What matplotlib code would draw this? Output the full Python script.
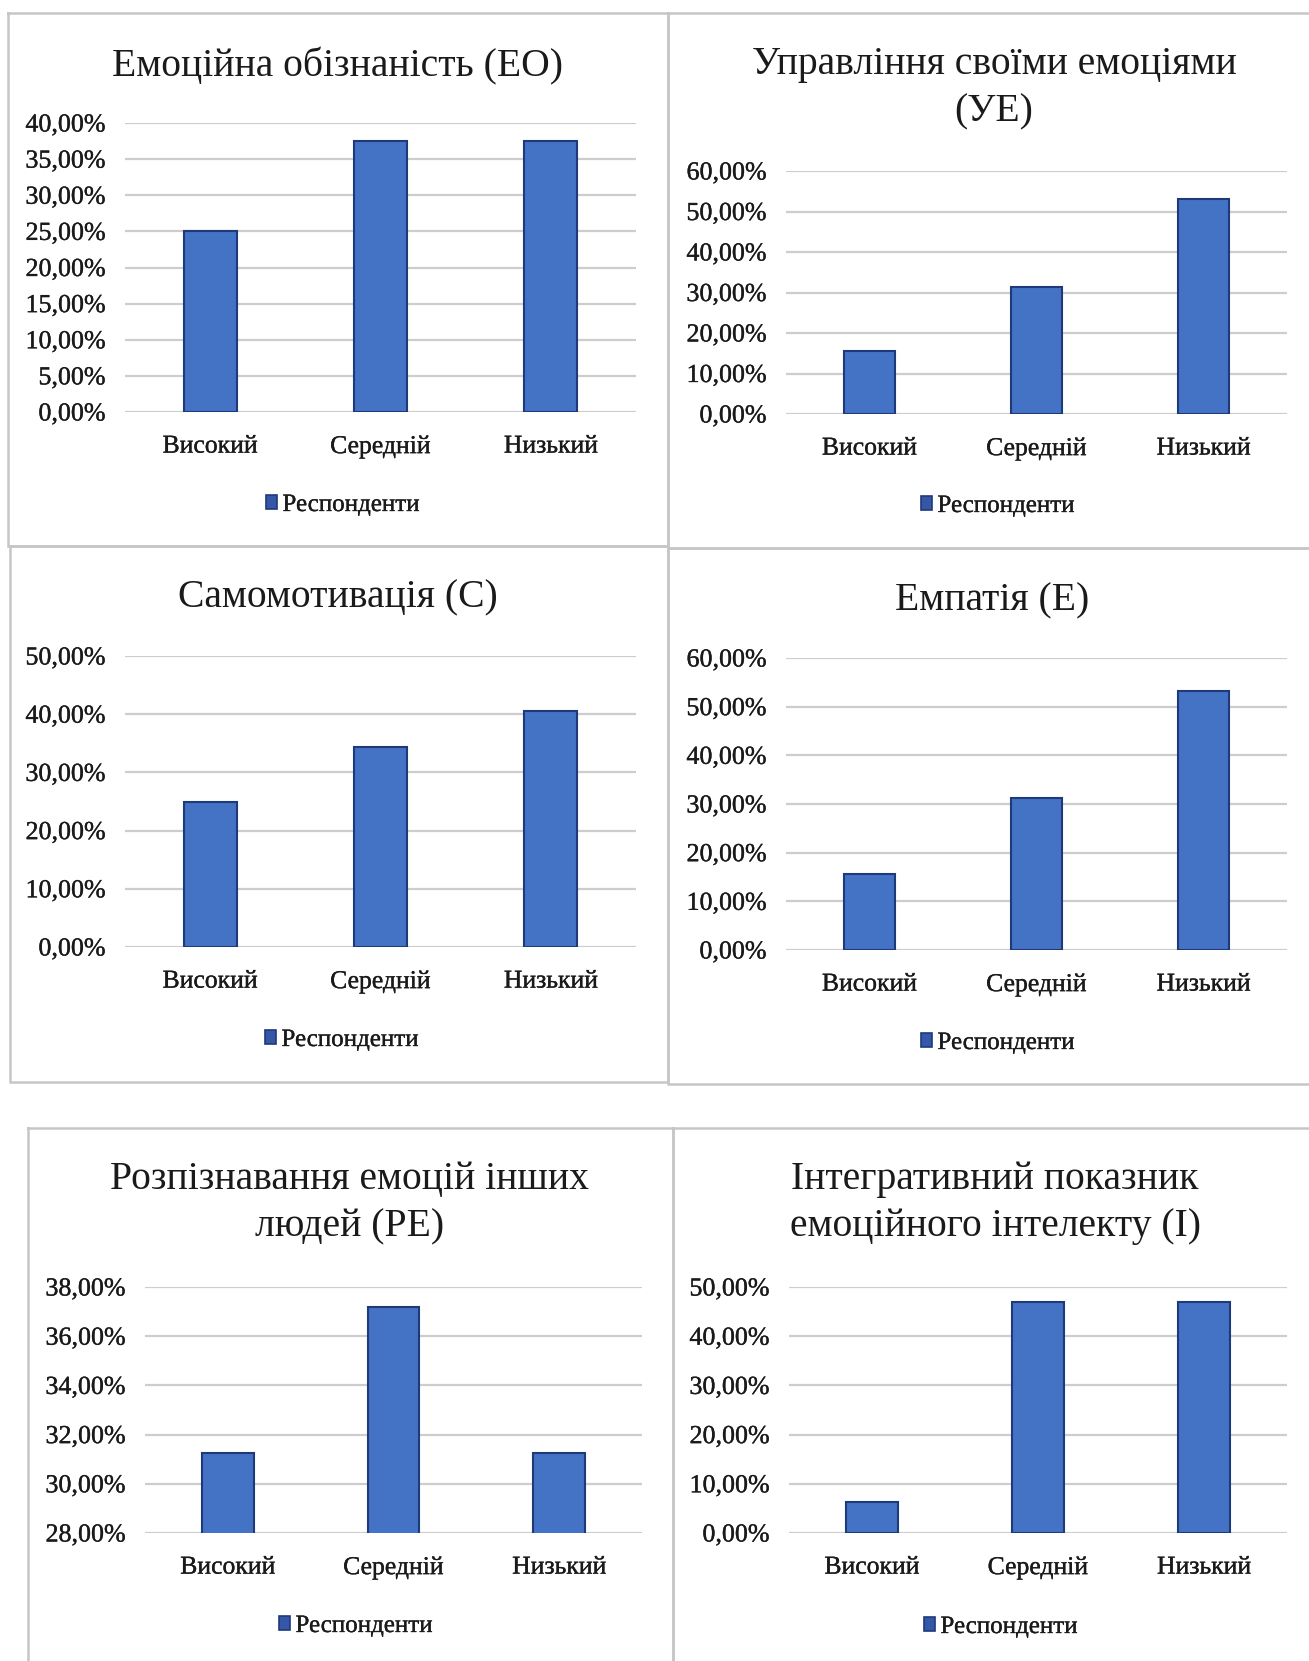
import matplotlib
matplotlib.use("Agg")
import matplotlib.pyplot as plt
import matplotlib.patheffects as pe
from matplotlib.patches import Patch
from matplotlib.lines import Line2D
from matplotlib.ticker import FuncFormatter, MultipleLocator

W, H = 1309, 1661
plt.rcParams['font.family'] = ['Liberation Serif', 'DejaVu Serif']

# ---- data -------------------------------------------------------------
categories = ["Високий", "Середній", "Низький"]
series_name = "Респонденти"

eo_values = [25.0, 37.5, 37.5]
ue_values = [15.63, 31.25, 53.13]
c_values = [25.0, 34.38, 40.63]
e_values = [15.63, 31.25, 53.13]
re_values = [31.25, 37.2, 31.25]
i_values = [6.25, 46.88, 46.88]

titles = [
    "Емоційна обізнаність (ЕО)",
    "Управління своїми емоціями\n(УЕ)",
    "Самомотивація (С)",
    "Емпатія (Е)",
    "Розпізнавання емоцій інших\nлюдей (РЕ)",
    "Інтегративний показник\nемоційного інтелекту (I)",
]

# ---- styling ----------------------------------------------------------
BAR_FACE = "#4472C4"
BAR_EDGE = "#1F3A7A"
LEG_FACE = "#3557A8"
GRID = "#CDCDCD"
FRAME = "#C6C6C6"
TEXT = "#1A1A1A"
TITLE_SIZE = 28.5
TICK_SIZE = 18.7
CAT_SIZE = 18.5
LEG_SIZE = 18
# light stroke so the small serif labels read a little heavier
INK = [pe.withStroke(linewidth=0.25, foreground=TEXT)]

# panel geometry in pixels: plot box (left, right, top, bottom),
# y-limits, tick step, title centre (x, y), legend centre (x, y)
panels = [
    dict(values=eo_values, box=(125, 636, 123, 412), ylim=(0, 40), step=5,
         title=(337, 66), legend=(343, 505)),
    dict(values=ue_values, box=(786, 1287, 171, 414), ylim=(0, 60), step=10,
         title=(994, 88), legend=(998, 506)),
    dict(values=c_values, box=(125, 636, 656, 947), ylim=(0, 50), step=10,
         title=(338, 598), legend=(342, 1040)),
    dict(values=e_values, box=(786, 1287, 658, 950), ylim=(0, 60), step=10,
         title=(992, 601), legend=(998, 1043)),
    dict(values=re_values, box=(145, 642, 1287, 1533), ylim=(28, 38), step=2,
         title=(350, 1203), legend=(356, 1626)),
    dict(values=i_values, box=(789, 1287, 1287, 1533), ylim=(0, 50), step=10,
         title=(995, 1203), legend=(1001, 1627)),
]

# panel frames (x0, x1, y0, y1) in pixels
frames = [
    (8, 668, 13, 546),
    (668, 1320, 13, 548),
    (10, 668, 546, 1082),
    (668, 1320, 548, 1084),
    (28, 673, 1128, 1680),
    (673, 1320, 1128, 1680),
]


def fx(x):
    return x / W


def fy(y):
    return 1 - y / H


pct = FuncFormatter(lambda v, _: f"{v:.2f}".replace(".", ",") + "%")

fig = plt.figure(figsize=(W / 100, H / 100), dpi=100)
fig.patch.set_facecolor("white")

# frames around each chart
for x0, x1, y0, y1 in frames:
    xs = [fx(x0), fx(x1), fx(x1), fx(x0), fx(x0)]
    ys = [fy(y0), fy(y0), fy(y1), fy(y1), fy(y0)]
    fig.add_artist(Line2D(xs, ys, color=FRAME, lw=1.8,
                          transform=fig.transFigure, solid_joinstyle="miter"))

x = list(range(len(categories)))
for p, title in zip(panels, titles):
    l, r, t, b = p["box"]
    ax = fig.add_axes([fx(l), fy(b), (r - l) / W, (b - t) / H])
    ax.bar(x, p["values"], width=0.31, color=BAR_FACE, edgecolor=BAR_EDGE,
           linewidth=1.5, zorder=3)
    ax.set_xlim(-0.5, 2.5)
    ax.set_ylim(*p["ylim"])
    ax.yaxis.set_major_locator(MultipleLocator(p["step"]))
    ax.yaxis.set_major_formatter(pct)
    ax.set_xticks(x)
    ax.set_xticklabels(categories)
    ax.grid(axis="y", color=GRID, lw=1.6, zorder=0)
    ax.set_axisbelow(True)
    for s in ax.spines.values():
        s.set_visible(False)
    ax.tick_params(axis="y", length=0, pad=14, labelsize=TICK_SIZE,
                   labelcolor=TEXT)
    ax.tick_params(axis="x", length=0, pad=17, labelsize=CAT_SIZE,
                   labelcolor=TEXT)
    for lab in ax.get_xticklabels() + ax.get_yticklabels():
        lab.set_path_effects(INK)

    tx, ty = p["title"]
    fig.text(fx(tx), fy(ty), title, ha="center", va="center",
             fontsize=TITLE_SIZE, color=TEXT, linespacing=1.38,
             multialignment="center")

    lx, ly = p["legend"]
    handle = Patch(facecolor=LEG_FACE, edgecolor=BAR_EDGE, linewidth=1.2)
    leg = ax.legend([handle], [series_name], loc="center",
                    bbox_to_anchor=(fx(lx), fy(ly)),
                    bbox_transform=fig.transFigure, frameon=False,
                    fontsize=LEG_SIZE, handlelength=0.45, handleheight=0.5,
                    handletextpad=0.2, borderpad=0, labelcolor=TEXT)
    for txt in leg.get_texts():
        txt.set_path_effects(INK)

fig.savefig("out.png", dpi=100, facecolor="white")
